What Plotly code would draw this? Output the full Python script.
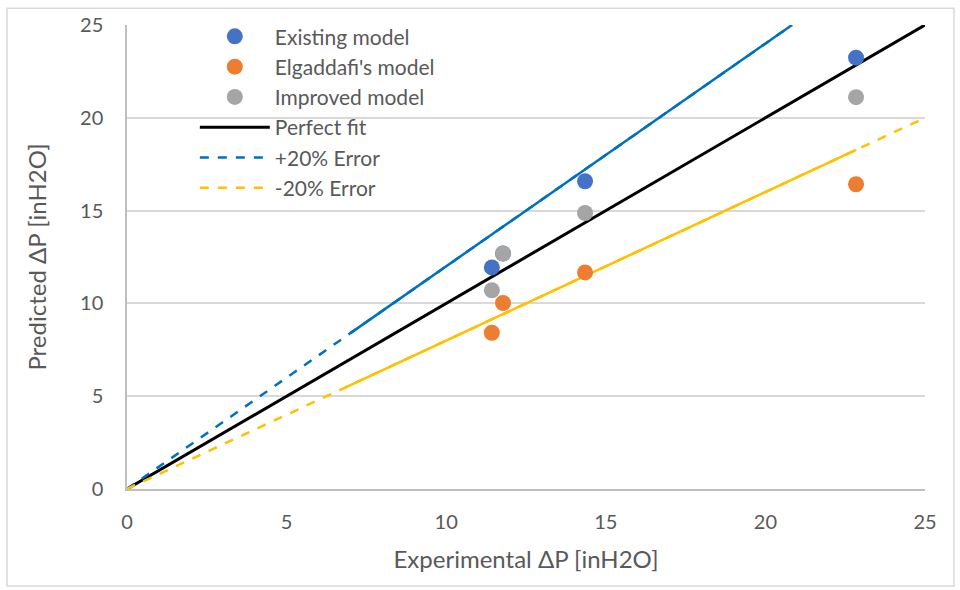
import plotly.graph_objects as go

# Measured vs. predicted pressure drop
experimental = [11.43, 11.78, 14.35, 22.84]
existing_model = [11.94, 12.69, 16.58, 23.24]
elgaddafi_model = [8.42, 10.02, 11.67, 16.42]
improved_model = [10.71, 12.69, 14.87, 21.11]

# Reference lines
fit_x = [0, 25]
fit_y = [0, 25]
plus20_x = [0, 25 / 1.2]
plus20_y = [0, 25]
minus20_x = [0, 25]
minus20_y = [0, 20]
# solid stretches drawn over the dashed error lines
plus20_solid_x = [7.0, 25 / 1.2]
minus20_solid_x = [6.8, 22.84]

ticks = [0, 5, 10, 15, 20, 25]

FONT = "Lato, 'Open Sans', sans-serif"
GREY = "#595959"

fig = go.Figure()

fig.add_trace(go.Scatter(x=fit_x, y=fit_y, mode="lines", name="Perfect fit",
                         legendrank=4, line=dict(color="black", width=3)))
fig.add_trace(go.Scatter(x=plus20_x, y=plus20_y, mode="lines", name="+20% Error",
                         legendrank=5,
                         line=dict(color="#0070C0", width=2.5, dash="dash")))
fig.add_trace(go.Scatter(x=minus20_x, y=minus20_y, mode="lines", name="-20% Error",
                         legendrank=6,
                         line=dict(color="#FFC000", width=2.5, dash="dash")))
fig.add_trace(go.Scatter(x=plus20_solid_x, y=[v * 1.2 for v in plus20_solid_x],
                         mode="lines", showlegend=False, hoverinfo="skip",
                         line=dict(color="#0070C0", width=2.5)))
fig.add_trace(go.Scatter(x=minus20_solid_x, y=[v * 0.8 for v in minus20_solid_x],
                         mode="lines", showlegend=False, hoverinfo="skip",
                         line=dict(color="#FFC000", width=2.5)))

fig.add_trace(go.Scatter(x=experimental, y=existing_model, mode="markers",
                         name="Existing model", legendrank=1,
                         marker=dict(color="#4472C4", size=16)))
fig.add_trace(go.Scatter(x=experimental, y=elgaddafi_model, mode="markers",
                         name="Elgaddafi's model", legendrank=2,
                         marker=dict(color="#ED7D31", size=16)))
fig.add_trace(go.Scatter(x=experimental, y=improved_model, mode="markers",
                         name="Improved model", legendrank=3,
                         marker=dict(color="#A5A5A5", size=16)))

fig.update_layout(
    width=960, height=590,
    margin=dict(l=127, r=35, t=20, b=101),
    paper_bgcolor="white", plot_bgcolor="white",
    font=dict(family=FONT, color=GREY, size=20),
    legend=dict(x=0.085, y=1.019, xanchor="left", yanchor="top",
                bgcolor="rgba(0,0,0,0)", font=dict(size=21, color=GREY),
                traceorder="normal", itemwidth=70),
    xaxis=dict(range=[0, 25], tickvals=ticks, showgrid=False,
               showline=True, linecolor="#BFBFBF", linewidth=1.5,
               ticks="", zeroline=False, ticklabelstandoff=14,
               title=dict(text="Experimental ΔP [inH2O]", font=dict(size=24, color=GREY),
                          standoff=19),
               tickfont=dict(size=20, color=GREY)),
    yaxis=dict(range=[0, 25], tickvals=ticks, showgrid=True, gridcolor="#D9D9D9",
               gridwidth=1.5, showline=True, linecolor="#BFBFBF", linewidth=1.5,
               ticks="", zeroline=False, ticklabelstandoff=18,
               title=dict(text="Predicted ΔP [inH2O]", font=dict(size=24, color=GREY),
                          standoff=27),
               tickfont=dict(size=20, color=GREY)),
    showlegend=True,
)

# chart border
fig.add_shape(type="rect", xref="paper", yref="paper",
              x0=(7 - 127) / 798, x1=(954 - 127) / 798,
              y0=(489 - 587) / 469, y1=(489 - 3) / 469,
              line=dict(color="#D9D9D9", width=1.5), layer="below")

fig.write_html("out.html")
